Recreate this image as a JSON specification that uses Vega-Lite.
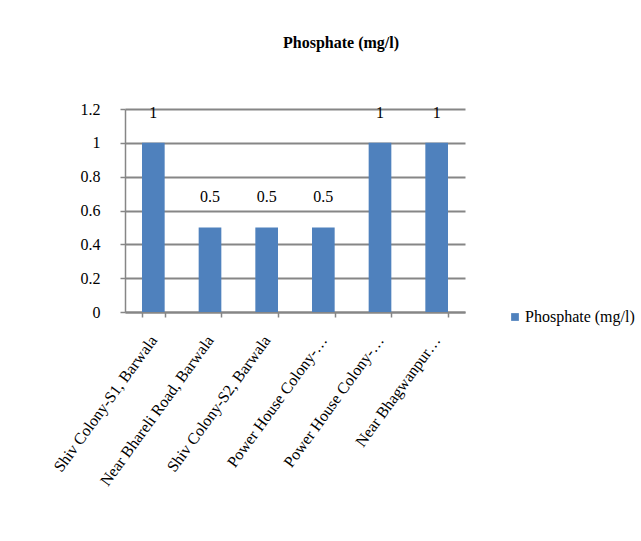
{
  "$schema": "https://vega.github.io/schema/vega-lite/v6.json",
  "width": 340,
  "height": 203,
  "padding": {"left": 50, "top": 35, "right": 5, "bottom": 5},
  "background": "white",
  "config": {
    "font": "Liberation Serif",
    "view": {"stroke": null},
    "axis": {"labelFont": "Liberation Serif", "labelColor": "#000000", "labelFontSize": 16}
  },
  "title": {
    "text": "Phosphate (mg/l)",
    "font": "Liberation Serif",
    "fontSize": 16,
    "fontWeight": "bold",
    "color": "#000000",
    "anchor": "middle",
    "dx": 46,
    "offset": 50
  },
  "data": {
    "values": [
      {"site": "Shiv Colony-S1, Barwala", "value": 1},
      {"site": "Near Bhareli Road, Barwala", "value": 0.5},
      {"site": "Shiv Colony-S2, Barwala", "value": 0.5},
      {"site": "Power House Colony-…", "value": 0.5},
      {"site": "Power House Colony-…  ", "value": 1},
      {"site": "Near Bhagwanpur…", "value": 1}
    ]
  },
  "encoding": {
    "x": {
      "field": "site",
      "type": "nominal",
      "sort": null,
      "scale": {"paddingInner": 0.6, "paddingOuter": 0.3},
      "axis": {
        "title": null,
        "labelAngle": -54,
        "labelAlign": "right",
        "labelBaseline": "middle",
        "labelPadding": 20,
        "labelLimit": 300,
        "tickBand": "extent",
        "tickSize": 5,
        "tickColor": "#868686",
        "tickWidth": 1.5,
        "domainColor": "#868686",
        "domainWidth": 2
      }
    },
    "y": {
      "field": "value",
      "type": "quantitative",
      "scale": {"domain": [0, 1.2]},
      "axis": {
        "title": null,
        "values": [0, 0.2, 0.4, 0.6, 0.8, 1, 1.2],
        "format": "~g",
        "gridColor": "#868686",
        "gridWidth": 2,
        "tickColor": "#868686",
        "tickWidth": 1.5,
        "tickSize": 5,
        "domainColor": "#868686",
        "domainWidth": 1.5,
        "labelPadding": 20
      }
    }
  },
  "layer": [
    {
      "mark": {"type": "bar", "color": "#4F81BD"},
      "encoding": {
        "color": {
          "datum": "Phosphate (mg/l)",
          "type": "nominal",
          "scale": {"range": ["#4F81BD"]},
          "legend": {
            "title": null,
            "orient": "none",
            "legendX": 382,
            "legendY": 200,
            "symbolType": "square",
            "symbolSize": 60,
            "labelFont": "Liberation Serif",
            "labelFontSize": 16,
            "labelColor": "#000000",
            "labelOffset": 2
          }
        }
      }
    },
    {
      "mark": {"type": "text", "baseline": "middle", "dy": -30, "fontSize": 16, "font": "Liberation Serif", "color": "#000000"},
      "encoding": {
        "text": {"field": "value", "type": "quantitative", "format": "~g"}
      }
    }
  ]
}
